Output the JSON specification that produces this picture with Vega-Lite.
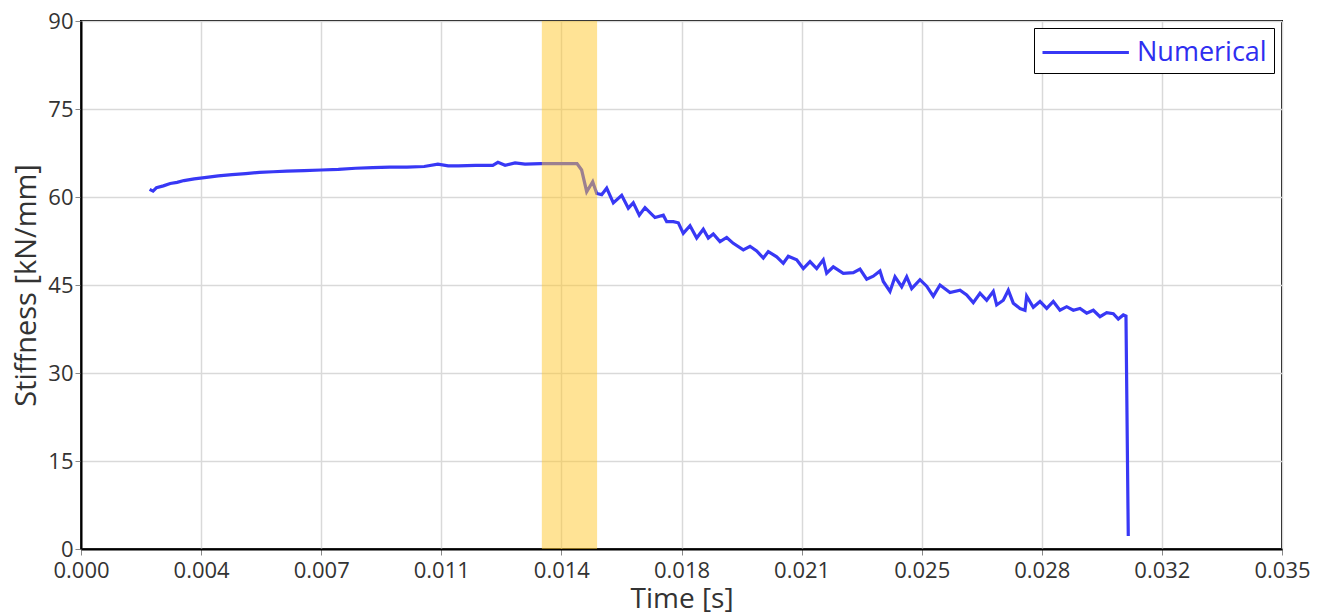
{
  "$schema": "https://vega.github.io/schema/vega-lite/v6.json",
  "width": 1201,
  "height": 528,
  "autosize": {"type": "none"},
  "padding": {"left": 81, "top": 21, "right": 41, "bottom": 66},
  "background": "white",
  "config": {
    "font": "Open Sans",
    "view": {"stroke": "black", "strokeWidth": 2},
    "axis": {
      "labelFont": "Open Sans",
      "titleFont": "Open Sans",
      "labelFontSize": 22,
      "titleFontWeight": "normal",
      "labelColor": "#333333",
      "titleColor": "#333333",
      "gridColor": "#d9d9d9",
      "gridWidth": 1.5,
      "domainColor": "black",
      "domainWidth": 2,
      "tickColor": "#888888",
      "tickSize": 6
    }
  },
  "datasets": {
    "stiff": [
      {"t": 0.00200, "v": 61.3}, {"t": 0.00210, "v": 61.0}, {"t": 0.00220, "v": 61.6}, {"t": 0.00240, "v": 61.9},
      {"t": 0.00260, "v": 62.3}, {"t": 0.00280, "v": 62.5}, {"t": 0.00300, "v": 62.8}, {"t": 0.00330, "v": 63.1},
      {"t": 0.00360, "v": 63.3}, {"t": 0.00400, "v": 63.6}, {"t": 0.00440, "v": 63.8}, {"t": 0.00480, "v": 64.0},
      {"t": 0.00520, "v": 64.2}, {"t": 0.00560, "v": 64.3}, {"t": 0.00600, "v": 64.4}, {"t": 0.00650, "v": 64.5},
      {"t": 0.00700, "v": 64.6}, {"t": 0.00750, "v": 64.7}, {"t": 0.00800, "v": 64.9}, {"t": 0.00850, "v": 65.0},
      {"t": 0.00900, "v": 65.1}, {"t": 0.00950, "v": 65.1}, {"t": 0.01000, "v": 65.2}, {"t": 0.01040, "v": 65.6},
      {"t": 0.01070, "v": 65.3}, {"t": 0.01100, "v": 65.3}, {"t": 0.01150, "v": 65.4}, {"t": 0.01200, "v": 65.4},
      {"t": 0.01215, "v": 65.9}, {"t": 0.01236, "v": 65.4}, {"t": 0.01265, "v": 65.8}, {"t": 0.01294, "v": 65.6},
      {"t": 0.01340, "v": 65.7}, {"t": 0.014455, "v": 65.7}, {"t": 0.01459, "v": 64.6}, {"t": 0.014737, "v": 60.9},
      {"t": 0.014912, "v": 62.6}, {"t": 0.015029, "v": 60.6}, {"t": 0.015174, "v": 60.4}, {"t": 0.01532, "v": 61.5},
      {"t": 0.015513, "v": 59.0}, {"t": 0.015757, "v": 60.3}, {"t": 0.01595, "v": 58.1}, {"t": 0.016095, "v": 59.0},
      {"t": 0.01627, "v": 56.9}, {"t": 0.016436, "v": 58.2}, {"t": 0.016728, "v": 56.5}, {"t": 0.01697, "v": 56.9},
      {"t": 0.017068, "v": 55.8}, {"t": 0.017261, "v": 55.8}, {"t": 0.017407, "v": 55.6}, {"t": 0.017552, "v": 53.8},
      {"t": 0.017748, "v": 55.1}, {"t": 0.017943, "v": 53.0}, {"t": 0.018135, "v": 54.5}, {"t": 0.018281, "v": 53.0},
      {"t": 0.018427, "v": 53.7}, {"t": 0.018622, "v": 52.4}, {"t": 0.018817, "v": 53.1}, {"t": 0.019009, "v": 52.1},
      {"t": 0.019301, "v": 51.0}, {"t": 0.019496, "v": 51.6}, {"t": 0.019691, "v": 50.8}, {"t": 0.019884, "v": 49.6},
      {"t": 0.020029, "v": 50.7}, {"t": 0.020274, "v": 49.8}, {"t": 0.020467, "v": 48.7}, {"t": 0.020612, "v": 49.9},
      {"t": 0.020857, "v": 49.3}, {"t": 0.02105, "v": 47.8}, {"t": 0.021245, "v": 49.0}, {"t": 0.02144, "v": 47.8},
      {"t": 0.021632, "v": 49.3}, {"t": 0.021731, "v": 47.0}, {"t": 0.021924, "v": 48.1}, {"t": 0.022215, "v": 47.0},
      {"t": 0.022507, "v": 47.1}, {"t": 0.022702, "v": 47.7}, {"t": 0.022897, "v": 46.0}, {"t": 0.023089, "v": 46.5},
      {"t": 0.023284, "v": 47.4}, {"t": 0.023381, "v": 45.6}, {"t": 0.023576, "v": 43.9}, {"t": 0.023722, "v": 46.4},
      {"t": 0.023917, "v": 44.7}, {"t": 0.024063, "v": 46.4}, {"t": 0.024208, "v": 44.4}, {"t": 0.02445, "v": 45.9},
      {"t": 0.024645, "v": 44.8}, {"t": 0.024838, "v": 43.1}, {"t": 0.025033, "v": 45.0}, {"t": 0.025325, "v": 43.7},
      {"t": 0.025616, "v": 44.1}, {"t": 0.025811, "v": 43.3}, {"t": 0.026003, "v": 42.0}, {"t": 0.026199, "v": 43.6},
      {"t": 0.026394, "v": 42.4}, {"t": 0.026586, "v": 43.9}, {"t": 0.026685, "v": 41.6}, {"t": 0.026878, "v": 42.4},
      {"t": 0.027024, "v": 44.1}, {"t": 0.027169, "v": 41.9}, {"t": 0.027365, "v": 41.0}, {"t": 0.02751, "v": 40.7},
      {"t": 0.027559, "v": 43.1}, {"t": 0.027752, "v": 41.2}, {"t": 0.027947, "v": 42.2}, {"t": 0.028143, "v": 41.0},
      {"t": 0.028335, "v": 42.2}, {"t": 0.02853, "v": 40.7}, {"t": 0.028725, "v": 41.3}, {"t": 0.028918, "v": 40.7},
      {"t": 0.029113, "v": 41.0}, {"t": 0.029308, "v": 40.2}, {"t": 0.029501, "v": 40.7}, {"t": 0.029696, "v": 39.6},
      {"t": 0.029891, "v": 40.3}, {"t": 0.030084, "v": 40.1}, {"t": 0.030229, "v": 39.2}, {"t": 0.030375, "v": 39.9},
      {"t": 0.030453, "v": 39.7}, {"t": 0.03052, "v": 2.2}
    ],
    "band": [{"t0": 0.01343, "t1": 0.01504}]
  },
  "layer": [
    {
      "data": {"name": "stiff"},
      "transform": [{"calculate": "'Numerical'", "as": "series"}],
      "mark": {"type": "line", "strokeWidth": 3.2, "interpolate": "linear"},
      "encoding": {
        "x": {
          "field": "t", "type": "quantitative",
          "scale": {"domain": [0, 0.035], "nice": false, "zero": false},
          "axis": {
            "title": "Time [s]",
            "titleFontSize": 28,
            "values": [0, 0.0035, 0.007, 0.0105, 0.014, 0.0175, 0.021, 0.0245, 0.028, 0.0315, 0.035],
            "format": ".3f",
            "labelPadding": 5,
            "titlePadding": 4,
            "labelFlush": false
          }
        },
        "y": {
          "field": "v", "type": "quantitative",
          "scale": {"domain": [0, 90], "nice": false},
          "axis": {
            "title": "Stiffness [kN/mm]",
            "titleFontSize": 29,
            "values": [0, 15, 30, 45, 60, 75, 90],
            "labelPadding": 2,
            "titlePadding": 6
          }
        },
        "color": {
          "field": "series", "type": "nominal",
          "scale": {"domain": ["Numerical"], "range": ["#3838f5"]},
          "legend": {
            "title": null,
            "orient": "none",
            "legendX": 953,
            "legendY": 7,
            "symbolType": "M-1,0H4.4",
            "symbolSize": 1024,
            "symbolStrokeWidth": 3,
            "labelFont": "Open Sans",
            "labelFontSize": 27,
            "labelColor": "#2e2ef0",
            "labelOffset": 61,
            "padding": 7,
            "strokeColor": "black",
            "fillColor": "white"
          }
        }
      }
    },
    {
      "data": {"name": "band"},
      "mark": {"type": "rect", "color": "#FFC72C", "opacity": 0.5},
      "encoding": {
        "x": {"field": "t0", "type": "quantitative"},
        "x2": {"field": "t1"}
      }
    }
  ]
}
